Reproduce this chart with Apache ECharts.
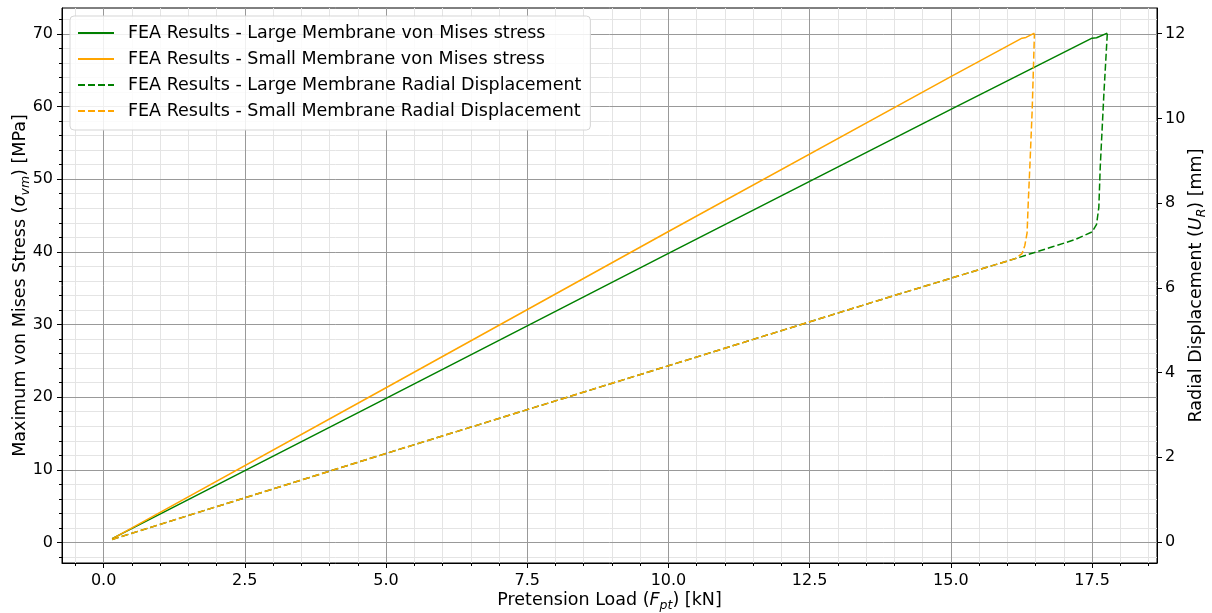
<!DOCTYPE html>
<html>
<head>
<meta charset="utf-8">
<script src="https://cdn.jsdelivr.net/npm/echarts@6/dist/echarts.min.js"></script>
<style>
html,body{margin:0;padding:0;background:#fff;}
#chart{width:1212px;height:613px;}
</style>
</head>
<body>
<div id="chart"></div>
<script>
// ---- data ----
const seriesNames = [
  'FEA Results - Large Membrane von Mises stress',
  'FEA Results - Small Membrane von Mises stress',
  'FEA Results - Large Membrane Radial Displacement',
  'FEA Results - Small Membrane Radial Displacement'
];
const largeStressX = [0.15, 5, 10, 15, 17.5, 17.58, 17.77];
const largeStressY = [0.55, 19.85, 39.8, 59.6, 69.4, 69.45, 70.1];
const smallStressX = [0.15, 5, 10, 15, 16.26, 16.33, 16.48];
const smallStressY = [0.5, 21.3, 42.8, 64.1, 69.4, 69.5, 70.1];
const largeDispX = [0.15, 5, 10, 14, 16.14, 16.8, 17.2, 17.5, 17.58, 17.62, 17.645, 17.71, 17.77];
const largeDispY = [0.06, 2.09, 4.16, 5.82, 6.69, 6.97, 7.14, 7.32, 7.5, 7.9, 8.85, 10.59, 12.0];
const smallDispX = [0.15, 5, 10, 14, 16.14, 16.26, 16.31, 16.35, 16.37, 16.40, 16.44, 16.48];
const smallDispY = [0.06, 2.09, 4.16, 5.82, 6.69, 6.81, 7.0, 7.3, 8.0, 8.9, 10.19, 12.0];

const xTicks = [0, 2.5, 5, 7.5, 10, 12.5, 15, 17.5];
const yLeftTicks = [0, 10, 20, 30, 40, 50, 60, 70];
const yRightTicks = [0, 2, 4, 6, 8, 10, 12];
const xMinorStep = 0.5, yLeftMinorStep = 2;

const xRange = [-0.737, 18.65];
const yLeftRange = [-2.81, 73.55];
const yRightRange = [-0.496, 12.607];

function pairs(xs, ys){ return xs.map((x,i)=>[x, ys[i]]); }
function minorValues(range, step){
  const out = [];
  for (let v = Math.ceil(range[0]/step)*step; v <= range[1]; v += step) out.push(+v.toFixed(6));
  return out;
}

const FONT = 'DejaVu Sans';
const MAJOR = '#999999', MINOR = '#e4e4e4';
const NAME_FS = 17.5;
const richName = {
  n: {fontSize: NAME_FS, fontFamily: FONT, color: '#000', lineHeight: 24},
  i: {fontSize: NAME_FS, fontFamily: FONT, fontStyle: 'italic', color: '#000', lineHeight: 24},
  s: {fontSize: 12.5, fontFamily: FONT, fontStyle: 'italic', color: '#000', verticalAlign: 'bottom', lineHeight: 24}
};

const chart = echarts.init(document.getElementById('chart'), null, {renderer: 'canvas'});
const option = {
  animation: false,
  backgroundColor: '#fff',
  textStyle: {fontFamily: FONT},
  grid: {left: 62, top: 8, width: 1095, height: 555, show: true, borderColor: '#000', borderWidth: 1,
         backgroundColor: 'transparent', outerBoundsMode: 'none', containLabel: false},
  legend: {
    orient: 'vertical', left: 70, top: 16,
    data: seriesNames,
    itemWidth: 36, itemHeight: 14, itemGap: 8,
    padding: [8, 9, 10, 7],
    backgroundColor: 'rgba(255,255,255,0.85)',
    borderColor: '#d5d5d5', borderWidth: 1, borderRadius: 4,
    itemStyle: {opacity: 0},
    textStyle: {fontSize: NAME_FS, fontFamily: FONT, color: '#000', padding: [0, 0, 0, 9], lineHeight: 16}
  },
  xAxis: [
    {
      type: 'value', min: xRange[0], max: xRange[1], position: 'bottom', z: 2,
      axisLine: {show: true, onZero: false, lineStyle: {color: '#000', width: 1}},
      axisTick: {show: true, length: 5, customValues: xTicks, lineStyle: {color: '#000'}},
      axisLabel: {customValues: xTicks, formatter: v => v.toFixed(1), fontSize: 16, color: '#000', margin: 10, fontFamily: FONT},
      splitLine: {show: true, lineStyle: {color: MAJOR, width: 1}},
      name: '{n|Pretension Load (}{i|F}{s|pt}{n|) [kN]}',
      nameLocation: 'middle', nameGap: 25, nameMoveOverlap: false,
      nameTextStyle: {rich: richName}
    },
    {
      type: 'value', min: xRange[0], max: xRange[1], position: 'bottom', z: 1,
      axisLine: {show: false, onZero: false},
      axisTick: {show: true, length: 3, customValues: minorValues(xRange, xMinorStep), lineStyle: {color: '#000'}},
      axisLabel: {show: false},
      splitLine: {show: true, lineStyle: {color: MINOR, width: 1}}
    }
  ],
  yAxis: [
    {
      type: 'value', min: yLeftRange[0], max: yLeftRange[1], position: 'left', z: 2,
      axisLine: {show: true, onZero: false, lineStyle: {color: '#000', width: 1}},
      axisTick: {show: true, length: 5, customValues: yLeftTicks, lineStyle: {color: '#000'}},
      axisLabel: {customValues: yLeftTicks, fontSize: 16, color: '#000', margin: 9, fontFamily: FONT},
      splitLine: {show: true, lineStyle: {color: MAJOR, width: 1}},
      name: '{n|Maximum von Mises Stress (}{i|σ}{s|vm}{n|) [MPa]}',
      nameLocation: 'middle', nameRotate: 90, nameGap: 30, nameMoveOverlap: false,
      nameTextStyle: {rich: richName}
    },
    {
      type: 'value', min: yLeftRange[0], max: yLeftRange[1], position: 'left', z: 1,
      axisLine: {show: false, onZero: false},
      axisTick: {show: true, length: 3, customValues: minorValues(yLeftRange, yLeftMinorStep), lineStyle: {color: '#000'}},
      axisLabel: {show: false},
      splitLine: {show: true, lineStyle: {color: MINOR, width: 1}}
    },
    {
      type: 'value', min: yRightRange[0], max: yRightRange[1], position: 'right', z: 2,
      axisLine: {show: true, onZero: false, lineStyle: {color: '#000', width: 1}},
      axisTick: {show: true, length: 5, customValues: yRightTicks, lineStyle: {color: '#000'}},
      axisLabel: {customValues: yRightTicks, fontSize: 16, color: '#000', margin: 8, fontFamily: FONT},
      splitLine: {show: false},
      name: '{n|Radial Displacement (}{i|U}{s|R}{n|) [mm]}',
      nameLocation: 'middle', nameRotate: 90, nameGap: 27, nameMoveOverlap: false,
      nameTextStyle: {rich: richName}
    }
  ],
  series: [
    {name: seriesNames[0], type: 'line', xAxisIndex: 0, yAxisIndex: 0, symbol: 'none', data: pairs(largeStressX, largeStressY),
     lineStyle: {color: '#008000', width: 1.5}, itemStyle: {color: '#008000'}, z: 3},
    {name: seriesNames[1], type: 'line', xAxisIndex: 0, yAxisIndex: 0, symbol: 'none', data: pairs(smallStressX, smallStressY),
     lineStyle: {color: '#ffa500', width: 1.5}, itemStyle: {color: '#ffa500'}, z: 3},
    {name: seriesNames[2], type: 'line', xAxisIndex: 0, yAxisIndex: 2, symbol: 'none', data: pairs(largeDispX, largeDispY),
     lineStyle: {color: '#008000', width: 1.5, type: [7, 3]}, itemStyle: {color: '#008000'}, z: 3},
    {name: seriesNames[3], type: 'line', xAxisIndex: 0, yAxisIndex: 2, symbol: 'none', data: pairs(smallDispX, smallDispY),
     lineStyle: {color: '#ffa500', width: 1.5, type: [7, 3]}, itemStyle: {color: '#ffa500'}, z: 3}
  ]
};
chart.setOption(option);
</script>
</body>
</html>
